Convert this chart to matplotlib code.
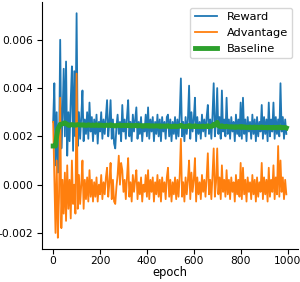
import numpy as np
import matplotlib
matplotlib.use("Agg")
import matplotlib.pyplot as plt

# epochs sampled every 5 steps
epochs = np.arange(0, 1000, 5)

# values in units of 1e-4
reward_e4 = [26, 42, 8, 30, 5, 12, 60, 15, 28, 48, 20, 51, 12, 30, 18, 35, 49, 14, 47, 20,
             71, 16, 30, 19, 28, 39, 18, 27, 21, 30, 19, 34, 22, 28, 18, 27, 21, 29, 17, 26,
             22, 30, 19, 27, 21, 28, 35, 20, 26, 35, 19, 27, 17, 15, 24, 29, 21, 26, 18, 33,
             22, 27, 19, 28, 35, 20, 26, 18, 29, 22, 27, 32, 19, 26, 21, 28, 18, 25, 22, 29,
             20, 32, 19, 27, 22, 28, 18, 26, 21, 29, 20, 27, 18, 28, 22, 26, 19, 28, 29, 20,
             27, 18, 26, 21, 28, 19, 27, 20, 29, 44, 20, 26, 18, 28, 21, 27, 41, 19, 30, 22,
             27, 36, 18, 28, 21, 26, 19, 29, 22, 27, 20, 28, 33, 21, 27, 19, 29, 42, 20, 26,
             40, 21, 28, 19, 39, 22, 27, 20, 36, 21, 27, 19, 28, 22, 26, 18, 29, 21, 27, 20,
             34, 19, 36, 21, 27, 18, 28, 22, 26, 19, 29, 21, 27, 18, 28, 20, 26, 22, 33, 19,
             28, 21, 27, 18, 34, 20, 27, 22, 34, 19, 28, 21, 27, 20, 42, 22, 28, 19, 27, 21]

advantage_e4 = [26, 4, -20, 10, -22, -5, 36, -18, 2, -12, 5, -15, 8, -10, 2, -14, 10, -8, 0, -12,
                46, -10, 4, -8, 0, 10, -10, 2, -6, 3, -7, 6, -5, 2, -7, 1, -5, 3, -7, 0,
                -4, 4, -6, 1, -4, 3, 7, -5, 1, 9, -6, 2, -7, -8, -1, 4, 12, 0, 9, 6,
                -3, 2, -6, 3, 11, -5, 1, -7, 4, -3, 2, 6, -6, 1, -4, 3, -7, 0, -3, 4,
                -5, 6, -6, 2, -3, 3, -7, 1, -4, 4, -5, 2, -7, 3, -3, 1, -6, 3, 7, -5,
                2, -7, 1, -4, 3, -6, 2, -5, 4, 19, -5, 1, -7, 3, -4, 2, 10, -6, 5, -3,
                2, 11, -7, 3, -4, 1, -6, 4, -3, 2, -5, 3, 13, -4, 2, -6, 4, 15, -5, 1,
                15, -4, 3, -6, 8, -3, 2, -5, 6, -4, 2, -6, 3, -3, 1, -7, 4, -4, 2, -5,
                9, -6, 7, -4, 2, -7, 3, -3, 1, -6, 4, -4, 2, -7, 3, -5, 1, -3, 9, -6,
                3, -4, 2, -7, 7, -5, 2, -3, 8, -6, 3, -4, 16, -5, 10, -3, 3, -6, 2, -4]

baseline_e4 = [16, 16, 16, 20, 23, 24, 25, 25, 25.2, 25.5, 25.6, 25.3, 25.0, 24.6, 24.5, 24.8, 24.9, 24.7, 24.8, 24.6,
               24.7, 24.9, 24.8, 24.6, 24.7, 24.8, 24.6, 24.7, 24.5, 24.6, 24.8, 24.7, 24.5, 24.6, 24.7, 24.5, 24.6, 24.8, 24.6, 24.5,
               24.6, 24.7, 24.5, 24.6, 24.4, 24.6, 24.7, 24.5, 24.6, 24.8, 24.5, 24.6, 24.4, 24.3, 24.5, 24.6, 24.5, 24.7, 24.4, 24.6,
               24.5, 24.6, 24.4, 24.5, 24.7, 24.4, 24.5, 24.3, 24.5, 24.4, 24.5, 24.6, 24.3, 24.4, 24.5, 24.4, 24.2, 24.4, 24.3, 24.5,
               24.3, 24.5, 24.2, 24.4, 24.3, 24.4, 24.2, 24.3, 24.4, 24.3, 24.2, 24.4, 24.1, 24.3, 24.2, 24.3, 24.1, 24.3, 24.4, 24.1,
               24.2, 24.0, 24.2, 24.1, 24.3, 24.0, 24.2, 24.1, 24.3, 24.6, 24.1, 24.2, 24.0, 24.2, 24.1, 24.2, 24.5, 24.0, 24.3, 24.1,
               24.2, 24.4, 24.0, 24.2, 24.1, 24.0, 24.2, 24.1, 24.3, 24.0, 24.1, 24.2, 24.4, 24.0, 24.2, 24.1, 24.3, 25.0, 24.6, 25.2,
               25.8, 24.4, 24.2, 24.0, 24.4, 24.1, 24.0, 23.9, 24.2, 24.0, 23.9, 24.0, 23.8, 24.0, 23.9, 23.7, 24.0, 23.8, 23.9, 23.8,
               24.1, 23.7, 24.0, 23.8, 23.9, 23.6, 23.8, 23.7, 23.9, 23.6, 23.8, 23.7, 23.9, 23.6, 23.8, 23.7, 23.6, 23.8, 23.9, 23.6,
               23.8, 23.6, 23.7, 23.5, 23.8, 23.6, 23.7, 23.5, 23.8, 23.6, 23.7, 23.5, 23.8, 23.6, 23.9, 23.5, 23.7, 23.6, 23.7, 23.5]

reward = np.array(reward_e4) * 1e-4
advantage = np.array(advantage_e4) * 1e-4
baseline = np.array(baseline_e4) * 1e-4

plt.rcParams['font.family'] = ['DejaVu Sans']
fig = plt.figure(figsize=(3.0, 2.82), dpi=100)
ax = fig.add_axes([41.5 / 300, 33 / 282, 256.5 / 300, 247 / 282])

ax.plot(epochs, reward, color='#1f77b4', lw=1.3, label='Reward')
ax.plot(epochs, advantage, color='#ff7f0e', lw=1.3, label='Advantage')
ax.plot(epochs, baseline, color='#2ca02c', lw=3.5, label='Baseline')

ax.set_xticks([0, 200, 400, 600, 800, 1000])
ax.set_yticks([-0.002, 0.0, 0.002, 0.004, 0.006])
ax.set_yticklabels(['-0.002', '0.000', '0.002', '0.004', '0.006'])
ax.tick_params(labelsize=7.7, length=3.5, width=0.8, pad=2.8)
ax.tick_params(axis='x', pad=1.8)
ax.set_xlabel('epoch', fontsize=8.3, labelpad=0)
for s in ('left', 'bottom'):
    ax.spines[s].set_linewidth(0.8)
ax.spines['top'].set_visible(False)
ax.spines['right'].set_visible(False)
ax.legend(loc='upper right', fontsize=8.2, frameon=True)

fig.savefig('out.png', dpi=100)
